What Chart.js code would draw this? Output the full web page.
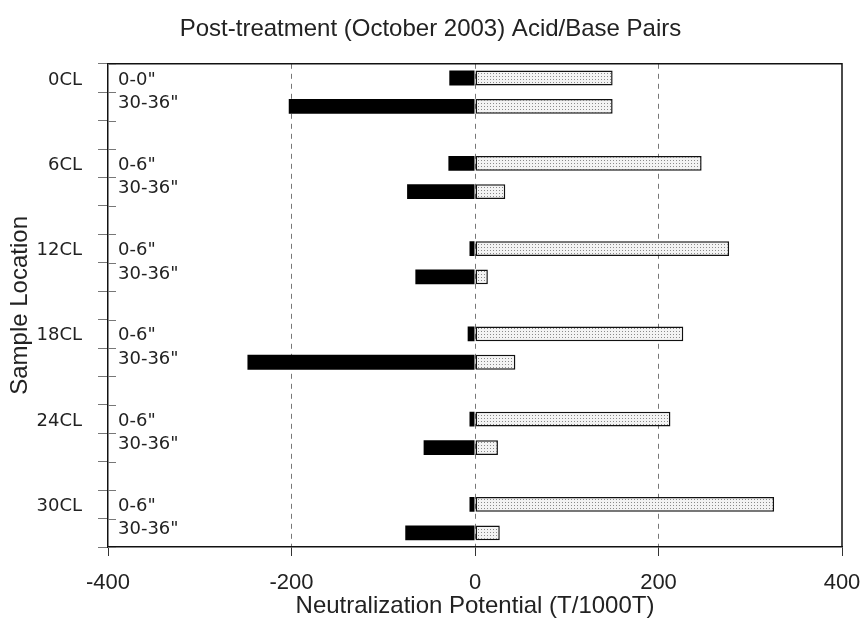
<!DOCTYPE html>
<html>
<head>
<meta charset="utf-8">
<title>Post-treatment (October 2003) Acid/Base Pairs</title>
<script src="https://cdn.jsdelivr.net/npm/chart.js@4.4.0/dist/chart.umd.min.js"></script>
<style>
  html, body { margin: 0; padding: 0; background: #fff; }
  #wrap { width: 861px; height: 623px; }
</style>
</head>
<body>
<div id="wrap"><canvas id="pairsChart" width="861" height="623"></canvas></div>
<script>
// Data
const locations = ['0CL', '6CL', '12CL', '18CL', '24CL', '30CL'];
const depths = [
    ['0-0"', '30-36"'],
    ['0-6"', '30-36"'],
    ['0-6"', '30-36"'],
    ['0-6"', '30-36"'],
    ['0-6"', '30-36"'],
    ['0-6"', '30-36"']
];
const acidValues = [-28, -203, -29, -74, -6, -65, -8, -248, -6, -56, -6, -76];
const baseValues = [150, 150, 247, 33, 277, 14, 227, 44, 213, 25, 326, 27];
const xTicks = [-400, -200, 0, 200, 400];

const FONT = "'Liberation Sans', Arial, sans-serif";
const LABEL_FONT = "'DejaVu Sans', sans-serif";
const TEXT = '#222';

// One row per sample, plus an empty row between locations
const rowLoc = [], rowDepth = [], acidData = [], baseData = [];
locations.forEach((loc, g) => {
    depths[g].forEach((d, k) => {
        rowLoc.push(k === 0 ? loc : '');
        rowDepth.push(d);
        acidData.push(acidValues[g * 2 + k]);
        baseData.push(baseValues[g * 2 + k]);
    });
    if (g < locations.length - 1) {
        rowLoc.push('');
        rowDepth.push('');
        acidData.push(null);
        baseData.push(null);
    }
});

const canvas = document.getElementById('pairsChart');
const mainCtx = canvas.getContext('2d');

// Dotted fill for the base bars
function stipple() {
    const c = document.createElement('canvas');
    c.width = 3; c.height = 3;
    const g = c.getContext('2d');
    g.fillStyle = '#f3f3f3';
    g.fillRect(0, 0, 3, 3);
    g.fillStyle = '#8a8a8a';
    g.fillRect(1, 1, 1, 1);
    return mainCtx.createPattern(c, 'repeat');
}

// Frame, inner tick halves and depth labels
const framePlugin = {
    id: 'frame',
    afterDatasetsDraw(chart) {
        const { ctx, chartArea: a, scales: { y } } = chart;
        ctx.save();
        ctx.strokeStyle = '#111';
        ctx.lineWidth = 1.5;
        ctx.beginPath();
        ctx.moveTo(a.left, a.top);
        ctx.lineTo(a.right, a.top);
        ctx.lineTo(a.right, a.bottom);
        ctx.stroke();

        ctx.strokeStyle = '#777';
        ctx.lineWidth = 1;
        ctx.beginPath();
        for (let i = 0; i <= rowDepth.length; i++) {
            let yy;
            if (i === 0) yy = a.top;
            else if (i === rowDepth.length) yy = a.bottom;
            else yy = (y.getPixelForValue(i - 1) + y.getPixelForValue(i)) / 2;
            ctx.moveTo(a.left, Math.round(yy) + 0.5);
            ctx.lineTo(a.left + 8, Math.round(yy) + 0.5);
        }
        ctx.stroke();

        ctx.fillStyle = TEXT;
        ctx.font = '18px ' + LABEL_FONT;
        ctx.textAlign = 'left';
        ctx.textBaseline = 'middle';
        rowDepth.forEach((d, i) => {
            if (!d) return;
            const shift = rowLoc[i] ? 2 : -3;
            ctx.fillText(d, a.left + 10, y.getPixelForValue(i) + shift);
        });
        ctx.restore();
    }
};

new Chart(canvas, {
    type: 'bar',
    data: {
        labels: rowLoc,
        datasets: [{
            label: 'Acid',
            data: acidData,
            backgroundColor: '#000',
            borderWidth: 0,
            barPercentage: 0.52,
            categoryPercentage: 1
        }, {
            label: 'Base',
            data: baseData,
            backgroundColor: stipple(),
            borderColor: '#111',
            borderWidth: 1.5,
            borderSkipped: false,
            barPercentage: 0.52,
            categoryPercentage: 1
        }]
    },
    options: {
        indexAxis: 'y',
        responsive: false,
        animation: false,
        layout: { padding: 0 },
        plugins: {
            legend: { display: false },
            tooltip: { enabled: false },
            title: {
                display: true,
                text: 'Post-treatment (October 2003) Acid/Base Pairs',
                color: TEXT,
                font: { family: FONT, size: 24, weight: 'normal' },
                padding: { top: 15, bottom: 20 }
            }
        },
        scales: {
            x: {
                type: 'linear',
                stacked: true,
                min: -400,
                max: 400,
                afterBuildTicks: scale => { scale.ticks = xTicks.map(v => ({ value: v })); },
                afterFit: scale => {
                    scale.height = 76;
                    scale.paddingLeft = 0;
                    scale.paddingRight = 19;
                },
                grid: {
                    color: c => (c.tick && Math.abs(c.tick.value) === 400) ? 'rgba(0,0,0,0)' : '#777',
                    tickColor: '#333',
                    tickBorderDash: [],
                    tickLength: 9
                },
                border: { display: true, color: '#111', width: 1.5, dash: [5, 5] },
                ticks: {
                    color: TEXT,
                    padding: 14,
                    maxRotation: 0,
                    font: { family: FONT, size: 22 }
                },
                title: {
                    display: true,
                    text: 'Neutralization Potential (T/1000T)',
                    color: TEXT,
                    font: { family: FONT, size: 24 },
                    padding: { top: 0, bottom: 2 }
                }
            },
            y: {
                type: 'category',
                stacked: true,
                offset: true,
                afterFit: scale => { scale.width = 108; },
                grid: {
                    display: true,
                    drawOnChartArea: false,
                    offset: true,
                    color: '#777',
                    tickLength: 10
                },
                border: { display: true, color: '#111', width: 1.5 },
                ticks: {
                    autoSkip: false,
                    color: TEXT,
                    padding: 16,
                    labelOffset: 2,
                    font: { family: LABEL_FONT, size: 18 }
                },
                title: {
                    display: true,
                    text: 'Sample Location',
                    color: TEXT,
                    font: { family: FONT, size: 24 },
                    padding: { top: 6, bottom: 0 }
                }
            }
        }
    },
    plugins: [framePlugin]
});
</script>
</body>
</html>
